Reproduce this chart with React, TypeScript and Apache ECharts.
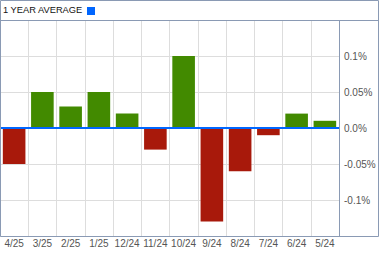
import React, { useEffect, useRef } from "react";
import * as echarts from "echarts";

const categories = ["4/25", "3/25", "2/25", "1/25", "12/24", "11/24", "10/24", "9/24", "8/24", "7/24", "6/24", "5/24"];
const values = [-0.05, 0.05, 0.03, 0.05, 0.02, -0.03, 0.1, -0.13, -0.06, -0.01, 0.02, 0.01];
const yMin = -0.15;
const yMax = 0.15;
const yInterval = 0.05;
const title = "1 YEAR AVERAGE";

const GREEN = "#428a00";
const RED = "#a8190b";
const BORDER = "#8a9ab4";
const BLUE = "#0066ff";
const FONT = "'Liberation Sans', Arial, sans-serif";

function fmtPct(v: number): string {
  const r = Math.round(v * 100) / 100;
  if (Math.abs(r) > 0.14) return "";
  if (r === 0) return "0.0%";
  return `${r}%`;
}

export default function App() {
  const ref = useRef<HTMLDivElement>(null);
  useEffect(() => {
    document.body.style.margin = "0";
    if (!ref.current) return;
    const chart = echarts.init(ref.current, undefined, { renderer: "svg" });
    chart.setOption({
      animation: false,
      backgroundColor: "#ffffff",
      grid: { left: 0, right: 40, top: 20, bottom: 19, containLabel: false },
      xAxis: {
        type: "category",
        data: categories,
        boundaryGap: true,
        axisLine: { show: false },
        axisTick: { show: false },
        axisLabel: { color: "#555555", fontSize: 10, fontFamily: FONT, margin: 2, interval: 0 },
        splitLine: { show: true, interval: 0, lineStyle: { color: "#dddddd", width: 1 } },
      },
      yAxis: {
        type: "value",
        position: "right",
        min: yMin,
        max: yMax,
        interval: yInterval,
        axisLine: { show: false },
        axisTick: { show: false },
        axisLabel: { color: "#555555", fontSize: 10, fontFamily: FONT, margin: 5, formatter: fmtPct },
        splitLine: { show: true, lineStyle: { color: "#dddddd", width: 1 } },
      },
      series: [
        {
          type: "bar",
          barCategoryGap: "20%",
          data: values.map((v) => ({ value: v, itemStyle: { color: v >= 0 ? GREEN : RED } })),
          markLine: {
            silent: true,
            symbol: "none",
            label: { show: false },
            lineStyle: { color: BLUE, width: 2, type: "solid" },
            data: [{ yAxis: 0 }],
          },
        },
      ],
      graphic: [
        {
          type: "rect",
          z: 100,
          shape: { x: 0.5, y: 0.5, width: 378, height: 236 },
          style: { fill: "none", stroke: BORDER, lineWidth: 1 },
        },
        {
          type: "line",
          z: 100,
          shape: { x1: 0, y1: 20.5, x2: 379, y2: 20.5 },
          style: { stroke: BORDER, lineWidth: 1 },
        },
        {
          type: "line",
          z: 100,
          shape: { x1: 339.5, y1: 20, x2: 339.5, y2: 237 },
          style: { stroke: BORDER, lineWidth: 1 },
        },
        {
          type: "text",
          z: 100,
          x: 3,
          y: 5.5,
          style: { text: title, fill: "#111111", fontSize: 9.3, fontFamily: FONT },
        },
        {
          type: "rect",
          z: 100,
          shape: { x: 87, y: 7, width: 8, height: 8 },
          style: { fill: BLUE },
        },
      ],
    });
    return () => chart.dispose();
  }, []);
  return <div ref={ref} style={{ width: 379, height: 255 }} />;
}
